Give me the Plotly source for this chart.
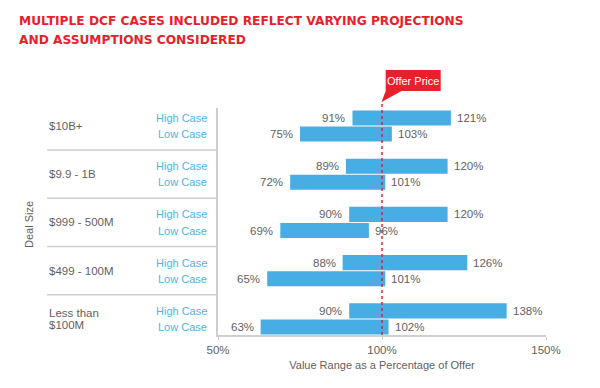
import plotly.graph_objects as go

categories = ["$10B+", "$9.9 - 1B", "$999 - 500M", "$499 - 100M", "Less than<br>$100M"]
case_labels = ["High Case", "Low Case"]
high_start = [91, 89, 90, 88, 90]
high_end = [121, 120, 120, 126, 138]
low_start = [75, 72, 69, 65, 63]
low_end = [103, 101, 96, 101, 102]
offer_price = 100
x_ticks = [50, 100, 150]
x_tick_labels = ["50%", "100%", "150%"]
title_lines = ["MULTIPLE DCF CASES INCLUDED REFLECT VARYING PROJECTIONS",
               "AND ASSUMPTIONS CONSIDERED"]

BLUE = "#47ADE3"
RED = "#E8202A"
GRAY = "#5f5f5f"
LIGHTBLUE = "#4FB2E8"
LINE = "#cfcfcf"
FONT = "Liberation Sans, Arial, sans-serif"

# page has an 8px body margin; figure is sized to fit the 600x388 window
OFF = 8
FW, FH = 600 - OFF, 388 - OFF
# plot area geometry in page pixels
L, R, T, B = 218, 546, 108, 335
W, H = R - L, B - T
UNIT = H / 14.12  # pixels per y unit

def px(xp):
    return (xp - L) / W

def py(yp):
    return (B - yp) / H

n = len(categories)
y_high = [3 * i for i in range(n)]
y_low = [3 * i + 1 for i in range(n)]

fig = go.Figure()

starts = high_start + low_start
ends = high_end + low_end
ys = y_high + y_low

fig.add_trace(go.Bar(
    orientation="h",
    y=ys,
    base=starts,
    x=[e - s for s, e in zip(starts, ends)],
    width=0.94,
    marker=dict(color=BLUE, line=dict(width=0)),
    hoverinfo="skip",
    showlegend=False,
))

shapes = []
annotations = []

valfont = dict(family=FONT, size=11.5, color=GRAY)
for s, e, yv in zip(starts, ends, ys):
    annotations.append(dict(xref="x", yref="y", x=s, y=yv, text=f"{s}%", showarrow=False,
                            xanchor="right", yanchor="middle", xshift=-5, font=valfont))
    annotations.append(dict(xref="x", yref="y", x=e, y=yv, text=f"{e}%", showarrow=False,
                            xanchor="left", yanchor="middle", xshift=4, font=valfont))

# offer price dotted line
shapes.append(dict(type="line", xref="x", yref="paper", x0=offer_price, x1=offer_price,
                   y0=0, y1=py(102), line=dict(color=RED, width=1.5, dash="dot"), layer="above"))
# callout
path = (f"M {px(385.7)},{py(70)} L {px(440.7)},{py(70)} L {px(440.7)},{py(91)} "
        f"L {px(401.5)},{py(91)} L {px(381.5)},{py(102)} L {px(385.7)},{py(91)} Z")
shapes.append(dict(type="path", xref="paper", yref="paper", path=path,
                   fillcolor=RED, line=dict(width=0), layer="above"))
annotations.append(dict(xref="paper", yref="paper", x=px(413.2), y=py(80.5),
                        text="Offer Price", showarrow=False,
                        font=dict(family=FONT, size=11, color="white"),
                        xanchor="center", yanchor="middle"))

# row separators
for i in range(1, n):
    shapes.append(dict(type="line", xref="paper", yref="y", x0=px(47), x1=0,
                       y0=3 * i - 1, y1=3 * i - 1, line=dict(color=LINE, width=1.5)))

catfont = dict(family=FONT, size=11.5, color=GRAY)
for i, cat in enumerate(categories):
    parts = cat.split("<br>")
    k = len(parts)
    for j, part in enumerate(parts):
        dy = (j - (k - 1) / 2) * 11.7 / UNIT
        annotations.append(dict(xref="paper", yref="y", x=px(47), y=3 * i + 0.5 + dy,
                                text=part, showarrow=False, align="left",
                                xanchor="left", yanchor="middle", font=catfont))
    for j, yv in enumerate([y_high[i], y_low[i]]):
        annotations.append(dict(xref="paper", yref="y", x=px(209), y=yv,
                                text=case_labels[j], showarrow=False,
                                xanchor="right", yanchor="middle",
                                font=dict(family=FONT, size=11, color=LIGHTBLUE)))

annotations.append(dict(xref="paper", yref="paper", x=px(29), y=py(225),
                        text="Deal Size", textangle=-90, showarrow=False,
                        xanchor="center", yanchor="middle",
                        font=dict(family=FONT, size=11, color=GRAY)))

# title lines
for j, line in enumerate(title_lines):
    annotations.append(dict(xref="paper", yref="paper", x=px(17), y=py(20.7 + j * 19),
                            text=f"<b>{line}</b>", showarrow=False,
                            xanchor="left", yanchor="middle",
                            font=dict(family="DejaVu Sans, sans-serif", size=12.2, color=RED)))

fig.update_layout(
    width=FW, height=FH,
    margin=dict(l=L - OFF, r=FW - (R - OFF), t=T - OFF, b=FH - (B - OFF), pad=0),
    paper_bgcolor="white", plot_bgcolor="white",
    barmode="overlay",
    xaxis=dict(range=[50, 150], tickmode="array", tickvals=x_ticks, ticktext=x_tick_labels,
               showgrid=False, zeroline=False, showline=True, linecolor=LINE, linewidth=1.5,
               ticks="outside", ticklen=3, tickcolor=LINE,
               tickfont=dict(family=FONT, size=11.5, color=GRAY),
               title=dict(text="Value Range as a Percentage of Offer", standoff=7,
                          font=dict(family=FONT, size=11, color=GRAY)),
               fixedrange=True),
    yaxis=dict(range=[13.5, -0.62], showticklabels=False, showgrid=False, zeroline=False,
               showline=True, linecolor=LINE, linewidth=1.5, ticks="", fixedrange=True),
    shapes=shapes,
    annotations=annotations,
    font=dict(family=FONT),
)

fig.write_html("out.html")
